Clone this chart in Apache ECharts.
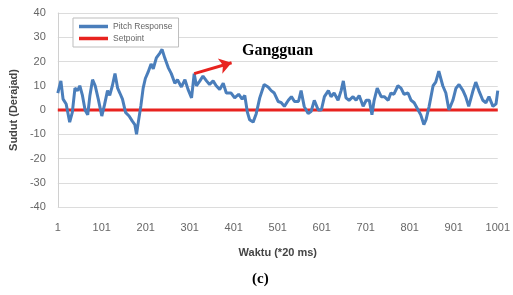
<!DOCTYPE html>
<html>
<head>
<meta charset="UTF-8">
<title>Pitch Response</title>
<style>
  html, body { margin: 0; padding: 0; background: #fff; }
  #chart { width: 513px; height: 295px; }
</style>
</head>
<body>
<div id="chart"></div>
<script src="https://cdn.jsdelivr.net/npm/echarts@6/dist/echarts.min.js"></script>
<script>
// sample number (1..1001) and pitch angle in degrees
var sampleNo = [1, 8, 13, 20, 28, 34, 40, 46, 51, 57, 63, 69, 74, 80, 86, 93, 101, 107, 114, 119,
  125, 131, 137, 142, 148, 155, 163, 170, 176, 180, 184, 190, 195, 200, 206, 213, 218, 225, 233, 238,
  244, 252, 259, 267, 273, 282, 290, 297, 305, 311, 316, 324, 331, 339, 346, 354, 361, 369, 377, 384,
  395, 403, 412, 420, 426, 432, 437, 445, 452, 460, 470, 479, 486, 493, 502, 509, 516, 525, 532, 539,
  548, 554, 561, 570, 577, 584, 593, 600, 607, 616, 622, 629, 638, 645, 650, 656, 663, 672, 679, 686,
  695, 702, 709, 715, 720, 727, 736, 743, 752, 758, 765, 774, 781, 788, 797, 804, 811, 820, 826, 833,
  838, 845, 854, 860, 867, 876, 883, 890, 899, 906, 913, 922, 928, 935, 944, 951, 958, 967, 974, 981,
  990, 997, 1001];
var pitchDeg = [7, 12, 4.5, 2.5, -5, -1, 9, 8, 10, 6, 0, -2, 6, 12.5, 10, 4.5, -2.5, 2, 8, 6,
  10, 15, 9, 7, 4.5, -1, -2.5, -4.5, -6, -10, -5, 2, 9, 13, 15.5, 19, 17, 21.5, 23.5, 25,
  21.5, 17.5, 15, 11, 12.5, 9.5, 12.5, 8.5, 5, 15, 10, 12, 14, 12, 10.5, 12, 10, 8.5, 11, 7,
  7, 5, 6.5, 4.5, 6, -1, -4, -5, -1.5, 5, 10.5, 9.5, 8, 7, 3.5, 3, 1.5, 4, 5.5, 3.5,
  3.5, 8, 1.5, -1.5, -0.5, 4, 0, 0, 5.5, 8, 5.5, 7, 4, 8, 12, 5, 4, 5.5, 4, 6,
  1.5, 4, 4, -2, 4, 9, 5.5, 5.5, 4, 7, 6.5, 10, 9, 6.5, 7, 4, 3, 0, -2, -6,
  -4, 1.5, 10, 11.5, 16, 10, 7, 0, 4, 9, 10.5, 8, 5.5, 1.5, 7.5, 11.5, 8, 4, 3, 5.5,
  1.5, 2.5, 8];
var setpointDeg = 0;
var yTicks = { min: -40, max: 40, step: 10 };
var xTicks = { min: 0, max: 1000, step: 100 }; // shown as sample number (+1)
// annotation arrow, in data units [sample index, degrees]
var arrowFrom = [310, 15];
var arrowTo = [395, 19.5];

var pitchData = sampleNo.map(function (s, i) { return [s - 1, pitchDeg[i]]; });
var setData = [[xTicks.min, setpointDeg], [xTicks.max, setpointDeg]];

var chart = echarts.init(document.getElementById('chart'));
chart.setOption({
  animation: false,
  grid: { left: 55, right: 13, top: 13, bottom: 88 },
  legend: {
    orient: 'vertical',
    left: 73,
    top: 18,
    padding: [4, 6],
    itemGap: 3,
    itemWidth: 29,
    itemHeight: 3.5,
    borderColor: '#bdbdbd',
    borderWidth: 1,
    backgroundColor: '#fff',
    textStyle: { fontFamily: 'Liberation Sans', fontSize: 8.5, color: '#666' },
    data: [{ name: 'Pitch Response', icon: 'rect' }, { name: 'Setpoint', icon: 'rect' }]
  },
  xAxis: {
    type: 'value',
    min: xTicks.min,
    max: xTicks.max,
    interval: xTicks.step,
    name: 'Waktu (*20 ms)',
    nameLocation: 'middle',
    nameGap: 40,
    nameTextStyle: { fontFamily: 'Liberation Sans', fontWeight: 'bold', fontSize: 11, color: '#444' },
    axisLine: { show: false },
    axisTick: { show: false },
    splitLine: { show: false },
    axisLabel: {
      margin: 15,
      fontFamily: 'Liberation Sans',
      fontSize: 11,
      color: '#666',
      formatter: function (v) { return String(v + 1); }
    }
  },
  yAxis: {
    type: 'value',
    min: yTicks.min,
    max: yTicks.max,
    interval: yTicks.step,
    name: 'Sudut (Derajad)',
    nameLocation: 'middle',
    nameGap: 36,
    nameTextStyle: { fontFamily: 'Liberation Sans', fontWeight: 'bold', fontSize: 11, color: '#444' },
    axisLine: { show: true, lineStyle: { color: '#d0d0d0' } },
    axisTick: { show: false },
    splitLine: { lineStyle: { color: '#dcdcdc' } },
    axisLabel: { margin: 12, fontFamily: 'Liberation Sans', fontSize: 11, color: '#666' }
  },
  series: [
    {
      name: 'Setpoint',
      type: 'line',
      data: setData,
      showSymbol: false,
      color: '#e8231f',
      lineStyle: { width: 3, color: '#e8231f' },
      z: 1
    },
    {
      name: 'Pitch Response',
      type: 'line',
      data: pitchData,
      showSymbol: false,
      color: '#4a7ebb',
      lineStyle: { width: 3, color: '#4a7ebb' },
      z: 2,
      markLine: {
        silent: true,
        symbol: ['none', 'arrow'],
        symbolSize: 12,
        label: { show: false },
        lineStyle: { type: 'solid', color: '#e8231f', width: 3 },
        data: [[{ coord: arrowFrom }, { coord: arrowTo }]]
      }
    }
  ],
  graphic: [
    {
      type: 'text',
      left: 242,
      top: 43,
      style: { text: 'Gangguan', fontFamily: 'Liberation Serif', fontWeight: 'bold', fontSize: 16, fill: '#000' }
    },
    {
      type: 'text',
      left: 252,
      top: 272,
      style: { text: '(c)', fontFamily: 'Liberation Serif', fontWeight: 'bold', fontSize: 15, fill: '#000' }
    }
  ]
});
</script>
</body>
</html>
